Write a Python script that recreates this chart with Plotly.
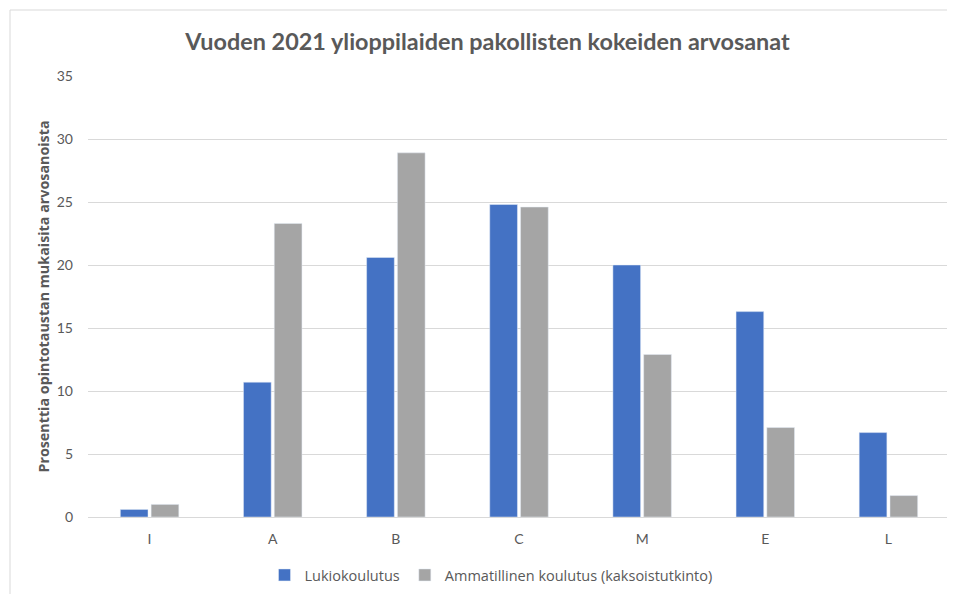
import plotly.graph_objects as go

categories = ["I", "A", "B", "C", "M", "E", "L"]
lukio = [0.6, 10.7, 20.6, 24.8, 20.0, 16.3, 6.7]
ammatillinen = [1.0, 23.3, 28.9, 24.6, 12.9, 7.1, 1.7]
series_names = ["Lukiokoulutus", "Ammatillinen koulutus (kaksoistutkinto)"]

# page body has an 8px default margin, so the figure is offset by 8px
OFF = 8
W, H = 955 - OFF, 594 - OFF
L, R, T, B = 88 - OFF, 5, 76 - OFF, 77
pw, ph = W - L - R, H - T - B

fig = go.Figure()
fig.add_trace(go.Bar(x=categories, y=lukio, name=series_names[0], marker_color="#4472C4"))
fig.add_trace(go.Bar(x=categories, y=ammatillinen, name=series_names[1], marker_color="#A5A5A5"))

font_fam = "Lato, 'Open Sans', sans-serif"
fig.update_layout(
    width=W, height=H,
    margin=dict(l=L, r=R, t=T, b=B, autoexpand=False),
    paper_bgcolor="white", plot_bgcolor="white",
    barmode="group", bargap=0.5, bargroupgap=0.1,
    title=dict(text="<b>Vuoden 2021 ylioppilaiden pakollisten kokeiden arvosanat</b>",
               x=(487.5 - OFF) / W, xanchor="center", y=1 - (42 - OFF) / H, yanchor="middle",
               font=dict(family=font_fam, size=23.4, color="#595959")),
    font=dict(family=font_fam, color="#595959", size=13),
    legend=dict(orientation="h", x=(491 - OFF) / W, xref="container", xanchor="center",
                y=1 - (575 - OFF) / H, yref="container", yanchor="middle",
                font=dict(family="'Open Sans', sans-serif", size=14.5, color="#595959"),
                traceorder="normal", itemwidth=30),
    showlegend=True,
)
fig.update_yaxes(range=[0, 35], dtick=5, showgrid=True, gridcolor="#D9D9D9", gridwidth=1,
                 zeroline=True, zerolinecolor="#D9D9D9", zerolinewidth=1,
                 ticks="", ticklabelstandoff=14, automargin=False,
                 tickfont=dict(size=14, color="#595959"),
                 title=dict(text="<b>Prosenttia opintotaustan mukaisita arvosanoista</b>",
                            font=dict(family="'Open Sans', sans-serif", size=14.3, color="#595959"),
                            standoff=3))
fig.update_xaxes(showline=True, linecolor="#D9D9D9", linewidth=1, ticks="", automargin=False,
                 ticklabelstandoff=9,
                 tickfont=dict(size=14, color="#595959"))

fig.add_shape(type="rect", xref="paper", yref="paper",
              x0=-(L - 2) / pw, x1=(W - L + 5) / pw,
              y0=-(B + 5) / ph, y1=1 + (T - 2) / ph,
              line=dict(color="#D9D9D9", width=1), fillcolor="rgba(0,0,0,0)", layer="below")

fig.write_html("out.html")
